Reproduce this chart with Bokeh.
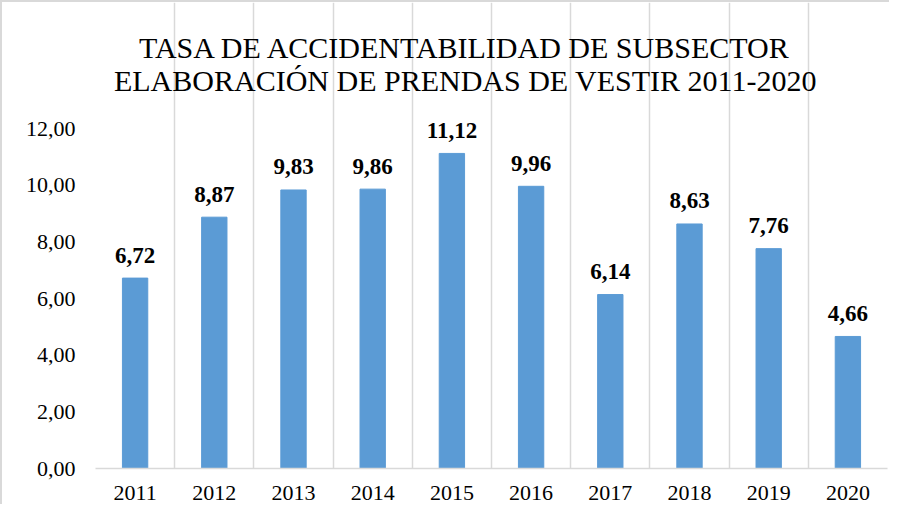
from bokeh.plotting import figure
from bokeh.models import ColumnDataSource, FixedTicker, Label
from bokeh.core.properties import value
from bokeh.embed import file_html
from bokeh.resources import INLINE

years = ["2011", "2012", "2013", "2014", "2015", "2016", "2017", "2018", "2019", "2020"]
rates = [6.72, 8.87, 9.83, 9.86, 11.12, 9.96, 6.14, 8.63, 7.76, 4.66]
y_ticks = [0, 2, 4, 6, 8, 10, 12]
title_lines = ["TASA DE ACCIDENTABILIDAD DE SUBSECTOR",
               "ELABORACIÓN DE PRENDAS DE VESTIR 2011-2020"]

xs = list(range(1, len(years) + 1))
labels = [f"{v:.2f}".replace(".", ",") for v in rates]
src = ColumnDataSource(dict(x=xs, y=rates, lab=labels))

SERIF = "Liberation Serif"

# plot area: 340 px for the 0..12 value axis; the frame is extended upward to hold the title
AXIS_PX = 340
TOP_PX = 126
YMAX = 12
PX = YMAX / AXIS_PX          # data units per pixel
CAT_PX = 792 / len(years)

p = figure(width=887, height=502, output_backend="svg", toolbar_location=None,
           x_range=(0.5, len(years) + 0.5), y_range=(0, YMAX + TOP_PX * PX),
           frame_width=792, frame_height=AXIS_PX + TOP_PX,
           min_border_left=93, min_border_right=2, min_border_bottom=36, min_border_top=0)
p.outline_line_color = None
p.background_fill_color = "white"
p.border_fill_color = "white"
p.styles = {"border-left": "2px solid #D9D9D9", "border-top": "2px solid #D9D9D9"}

# two-line chart title
for line, up in zip(title_lines, (81, 48)):
    p.add_layout(Label(x=0.5 + 370 / CAT_PX, y=YMAX + up * PX,
                       text=line, text_align="center", text_baseline="alphabetic",
                       text_font=SERIF, text_font_size="30px", text_color="#000000"))

p.vbar(x="x", top="y", width=0.32, source=src, color="#5B9BD5")
p.text(x="x", y="y", text="lab", source=src, text_align="center", text_baseline="alphabetic",
       y_offset=-23, text_font=value(SERIF), text_font_size="23px", text_font_style="bold",
       text_color="#000000")

p.xaxis.ticker = FixedTicker(ticks=xs)
p.xaxis.major_label_overrides = {x: y for x, y in zip(xs, years)}
p.yaxis.ticker = FixedTicker(ticks=y_ticks)
p.yaxis.major_label_overrides = {t: f"{t:.2f}".replace(".", ",") for t in y_ticks}

for ax in (p.xaxis, p.yaxis):
    ax.major_label_text_font = SERIF
    ax.major_label_text_font_size = "22px"
    ax.major_label_text_color = "#000000"
    ax.major_tick_line_color = None
    ax.minor_tick_line_color = None
p.xaxis.axis_line_color = "#D9D9D9"
p.xaxis.axis_line_width = 1.5
p.xaxis.major_label_standoff = 11
p.yaxis.axis_line_color = None
p.yaxis.major_label_standoff = 14

p.ygrid.grid_line_color = None
p.xgrid.ticker = FixedTicker(ticks=[x - 0.5 for x in xs] + [len(xs) + 0.5])
p.xgrid.bounds = (0, YMAX)
p.xgrid.grid_line_color = "#D9D9D9"
p.xgrid.grid_line_width = 1.5

open("out.html", "w").write(file_html(p, INLINE))
